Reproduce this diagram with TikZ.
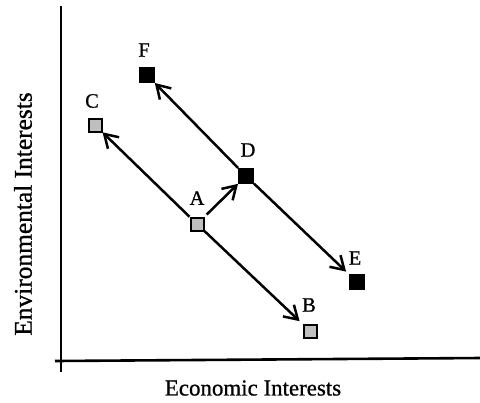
\documentclass[tikz,border=0pt]{standalone}
\usepackage{fontspec}
\setmainfont{Liberation Serif}[FakeBold=0.8]
\usetikzlibrary{arrows.meta}
\begin{document}
\begin{tikzpicture}[x=1bp,y=-1bp,
  ax/.style={line width=2.6bp},
  light/.style={draw, line width=2bp, fill=gray!50, minimum size=13bp, inner sep=0pt},
  dark/.style={draw, line width=2bp, fill=black, minimum size=14bp, inner sep=0pt},
  lbl/.style={font=\fontsize{20.5}{20.5}\selectfont, inner sep=0pt},
  axlbl/.style={font=\fontsize{23}{23}\selectfont, inner sep=0pt},
  arr/.style={line width=2.5bp, -{Straight Barb[length=13bp,width=16bp,line width=2.5bp]}}
]
\useasboundingbox (0,0) rectangle (480,402);
\coordinate (yt) at (61,6);
\coordinate (yb) at (61,372);
\coordinate (xl) at (55,361);
\coordinate (xr) at (480,358);
\draw[ax] (yt) -- (yb);
\draw[ax] (xl) -- (xr);
\node[axlbl] (xlab) at (253,388) {Economic Interests};
\node[axlbl, font=\fontsize{25.5}{25.5}\selectfont, rotate=90] (ylab) at (23,214) {Environmental Interests};
\node[light] (A) at (197,224) {};
\node[light] (B) at (310,331) {};
\node[light] (C) at (95,125) {};
\node[dark] (D) at (246,176) {};
\node[dark] (E) at (357,282) {};
\node[dark] (F) at (147,75) {};
\node[lbl] (lA) at (197,198) {A};
\node[lbl] (lB) at (309,305) {B};
\node[lbl] (lC) at (92,101) {C};
\node[lbl] (lD) at (248,150) {D};
\node[lbl] (lE) at (355,258) {E};
\node[lbl] (lF) at (144,50) {F};
\draw[arr] (A) -- (C);
\draw[arr, shorten >=4bp] (A) -- (B);
\draw[arr, shorten <=3bp] (A) -- (D);
\draw[arr] (D) -- (F);
\draw[arr, shorten >=4bp] (D) -- (E);
\end{tikzpicture}
\end{document}
